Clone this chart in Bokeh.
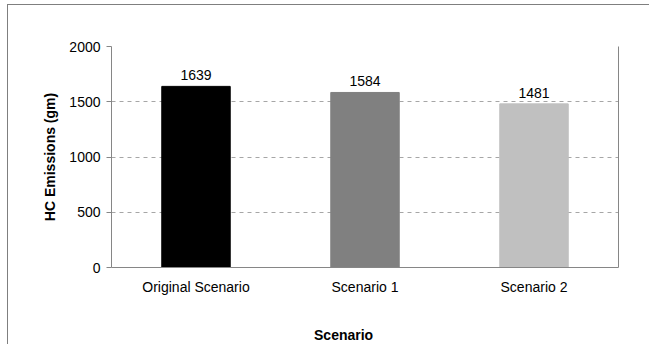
from bokeh.plotting import figure
from bokeh.models import ColumnDataSource, LinearAxis, FixedTicker, Range1d
from bokeh.embed import file_html
from bokeh.resources import INLINE
from bokeh.core.properties import value

# Data
scenarios = ["Original Scenario", "Scenario 1", "Scenario 2"]
hc_emissions = [1639, 1584, 1481]
bar_colors = ["#000000", "#808080", "#c0c0c0"]
y_ticks = [0, 500, 1000, 1500, 2000]

FONT = "Liberation Sans"
AXIS_GRAY = "#868686"

source = ColumnDataSource(dict(
    scenario=scenarios,
    hc=hc_emissions,
    color=bar_colors,
    label=[str(v) for v in hc_emissions],
))

p = figure(
    x_range=scenarios,
    y_range=Range1d(0, 2000),
    width=642, height=340,
    output_backend="svg",
    toolbar_location=None,
    min_border_left=103, min_border_right=32,
    min_border_top=41, min_border_bottom=77,
)
p.styles = {
    "margin-left": "7px", "margin-top": "4px",
    "border-left": "1px solid #7f7f7f", "border-top": "1px solid #7f7f7f",
}
p.outline_line_color = None
p.background_fill_color = "white"
p.border_fill_color = "white"

p.vbar(x="scenario", top="hc", width=0.405, color="color", source=source)

p.text(x="scenario", y="hc", text="label", source=source,
       text_align="center", text_baseline="bottom", y_offset=-6,
       text_font=value(FONT), text_font_size="14px", text_color="#000000")

# Axes
p.yaxis.ticker = FixedTicker(ticks=y_ticks)
p.yaxis.axis_line_color = AXIS_GRAY
p.yaxis.major_tick_line_color = AXIS_GRAY
p.yaxis.major_tick_out = 5
p.yaxis.major_tick_in = 0
p.yaxis.minor_tick_line_color = None
p.yaxis.major_label_text_font = FONT
p.yaxis.major_label_text_font_size = "14px"
p.yaxis.major_label_text_color = "#000000"
p.yaxis.major_label_standoff = 6
p.yaxis.axis_label = "HC Emissions (gm)"
p.yaxis.axis_label_text_font = FONT
p.yaxis.axis_label_text_font_size = "14px"
p.yaxis.axis_label_text_font_style = "bold"
p.yaxis.axis_label_text_color = "#000000"
p.yaxis.axis_label_standoff = 8

p.xaxis.axis_line_color = AXIS_GRAY
p.xaxis.major_tick_line_color = None
p.xaxis.minor_tick_line_color = None
p.xaxis.major_label_text_font = FONT
p.xaxis.major_label_text_font_size = "14px"
p.xaxis.major_label_text_color = "#000000"
p.xaxis.major_label_standoff = 5
# trailing no-break spaces pull the centred title a little to the left
p.xaxis.axis_label = "Scenario" + "\u00a0" * 11
p.xaxis.axis_label_text_font = FONT
p.xaxis.axis_label_text_font_size = "14px"
p.xaxis.axis_label_text_font_style = "bold"
p.xaxis.axis_label_text_color = "#000000"
p.xaxis.axis_label_standoff = 29

# Right border of the plot area
right = LinearAxis(ticker=FixedTicker(ticks=[]), axis_line_color=AXIS_GRAY,
                   major_tick_line_color=None, minor_tick_line_color=None,
                   major_label_text_font_size="0px")
p.add_layout(right, "right")

p.xgrid.grid_line_color = None
p.ygrid.ticker = FixedTicker(ticks=y_ticks[1:])
p.ygrid.grid_line_color = "#a6a6a6"
p.ygrid.grid_line_dash = "4 4"

open("out.html", "w").write(file_html(p, INLINE))
